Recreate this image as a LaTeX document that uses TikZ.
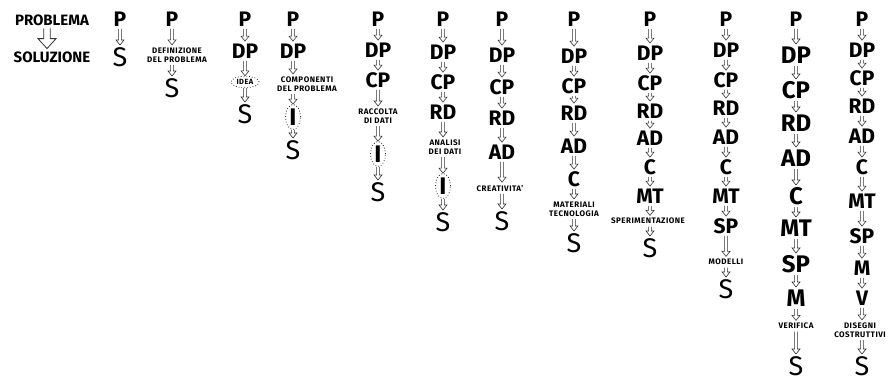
\documentclass[tikz,border=0pt]{standalone}
\usepackage{fontspec}
\setsansfont{Fira Sans}
\usetikzlibrary{calc,shapes.geometric}
\tikzset{
  sigla/.style={font=\sffamily\bfseries\fontsize{21}{21}\selectfont, inner sep=2.5pt,
                text height=14.4pt, text depth=0pt},
  siglag/.style={sigla, font=\sffamily\bfseries\fontsize{24}{24}\selectfont, text height=16.6pt},
  fine/.style={font=\sffamily\fontsize{27}{27}\selectfont, inner sep=2.5pt,
               text height=18.6pt, text depth=0pt},
  nota/.style={font=\sffamily\bfseries\fontsize{8}{9}\selectfont\addfontfeatures{LetterSpace=6},
               align=center, inner sep=2.5pt},
  titolo/.style={font=\sffamily\bfseries\fontsize{15}{15}\selectfont, inner sep=3pt,
                 text height=10.4pt, text depth=0pt},
  idea/.style={ellipse, draw=black!80, dotted, thick, inner sep=1.5pt,
               font=\sffamily\bfseries\fontsize{7.5}{7.5}\selectfont\addfontfeatures{LetterSpace=6}},
  intuiz/.style={ellipse, draw=black!80, dotted, thick, inner sep=0.5pt, minimum width=15pt,
                 font=\sffamily\bfseries\fontsize{24}{24}\selectfont,
                 text height=16.6pt, text depth=0pt},
  punta/.style n args={3}{to path={
      ($(\tikztostart)+(-#1,0)$) -- ($(\tikztotarget)+(-#1,#3)$)
      -- ($(\tikztotarget)+(-#2,#3)$) -- (\tikztotarget)
      -- ($(\tikztotarget)+(#2,#3)$) -- ($(\tikztotarget)+(#1,#3)$)
      -- ($(\tikztostart)+(#1,0)$)}},
  freccia/.style={punta={1.4pt}{4pt}{5pt}, draw=black!80, line width=0.6pt},
  frecciona/.style={punta={3.3pt}{9pt}{10pt}, draw=black!80, line width=0.8pt},
}

\begin{document}
\begin{tikzpicture}[x=1pt, y=-1pt]
\useasboundingbox (0,0) rectangle (888,383);

% problema -> soluzione
\node[titolo] (prob) at (52,20) {PROBLEMA};
\node[titolo] (sol) at (52,57) {SOLUZIONE};
\coordinate (asse0) at (47,0);
\draw[frecciona] (asse0 |- prob.south) to (asse0 |- sol.north);

% le colonne del metodo
\foreach \c/\x/\voci in {%
1/120/{1/19/0/P/sigla, 2/57/0/S/fine},%
2/172/{1/19/0/P/sigla, 2/55/5/{DEFINIZIONE\\DEL PROBLEMA}/nota, 3/88/0/S/fine},%
3/245/{1/19/0/P/sigla, 2/51/0/DP/sigla, 3/82/0/IDEA/idea, 4/114/0/S/fine},%
4/293/{1/19/0/P/sigla, 2/51/0/DP/sigla, 3/84/14/{COMPONENTI\\DEL PROBLEMA}/nota,
       4/117/0/I/intuiz, 5/150/0/S/fine},%
5/378/{1/19/0/P/sigla, 2/50/0/DP/sigla, 3/80/0/CP/sigla, 4/116/0/{RACCOLTA\\DI DATI}/nota,
       5/154/0/I/intuiz, 6/192/0/S/fine},%
6/443/{1/19/0/P/sigla, 2/52/0/DP/sigla, 3/82/0/CP/sigla, 4/112/0/RD/sigla,
       5/147/2/{ANALISI\\DEI DATI}/nota, 6/186/0/I/intuiz, 7/222/0/S/fine},%
7/502/{1/19/0/P/sigla, 2/55/0/DP/sigla, 3/87/0/CP/sigla, 4/118/0/RD/sigla, 5/152/0/AD/sigla,
       6/188/-2/{CREATIVITA'}/nota, 7/221/0/S/fine},%
8/574/{1/19/0/P/sigla, 2/56/0/DP/sigla, 3/86/0/CP/sigla, 4/113/0/RD/sigla, 5/146/0/AD/sigla,
       6/179/0/C/sigla, 7/209/0/{MATERIALI\\TECNOLOGIA}/nota, 8/243/0/S/fine},%
9/650/{1/19/0/P/sigla, 2/53/0/DP/sigla, 3/83/0/CP/sigla, 4/111/0/RD/sigla, 5/138/0/AD/sigla,
       6/167/0/C/sigla, 7/196/0/MT/sigla, 8/221/-2/SPERIMENTAZIONE/nota, 9/248/0/S/fine},%
10/726/{1/19/0/P/sigla, 2/50/0/DP/sigla, 3/80/0/CP/sigla, 4/108/0/RD/sigla, 5/137/0/AD/sigla,
        6/167/0/C/sigla, 7/196/0/MT/sigla, 8/226/0/SP/sigla, 9/262/0/MODELLI/nota,
        10/289/0/S/fine},%
11/796/{1/19/0/P/sigla, 2/55/0/DP/siglag, 3/90/0/CP/siglag, 4/123/0/RD/siglag, 5/158/0/AD/siglag,
        6/196/0/C/siglag, 7/228/0/MT/siglag, 8/264/0/SP/siglag, 9/298/0/M/siglag,
        10/326/0/VERIFICA/nota, 11/366/0/S/fine},%
12/862/{1/19/0/P/sigla, 2/50/0/DP/sigla, 3/78/0/CP/sigla, 4/106/0/RD/sigla, 5/136/0/AD/sigla,
        6/167/0/C/sigla, 7/201/0/MT/sigla, 8/236/0/SP/sigla, 9/268/0/M/sigla, 10/298/0/V/sigla,
        11/330/-2/{DISEGNI\\COSTRUTTIVI}/nota, 12/366/0/S/fine}%
}
{
  \coordinate (asse\c) at (\x,0);
  \foreach \k/\y/\dx/\t/\s [remember=\k as \j (initially 0)] in \voci {
    \node[\s, xshift=\dx pt] (c\c-\k) at (\x,\y) {\t};
    \ifnum\k>1
      \draw[freccia] (asse\c |- c\c-\j.south) to (asse\c |- c\c-\k.north);
    \fi
  }
}

\end{tikzpicture}
\end{document}
